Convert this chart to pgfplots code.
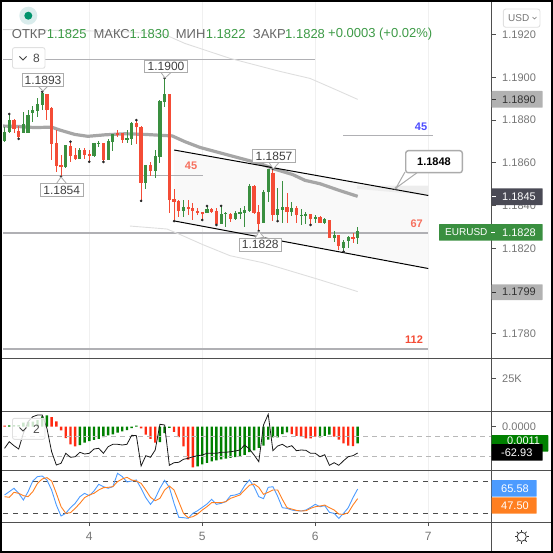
\documentclass[border=0pt]{standalone}
\usepackage{fontspec}
\setmainfont{Liberation Sans}
\usepackage{pgfplots}
\usepackage{pgfplotstable}
\pgfplotsset{compat=1.18}

\definecolor{cup}{HTML}{3A8F40}
\definecolor{cdown}{HTML}{F44C36}
\definecolor{hgreen}{HTML}{008000}
\definecolor{hred}{HTML}{FF2A12}
\definecolor{sep}{HTML}{4F4F4F}
\definecolor{ticktxt}{HTML}{757575}
\definecolor{hdr}{HTML}{666666}
\definecolor{hval}{HTML}{3D9A46}
\definecolor{lvl}{HTML}{B0B0B4}
\definecolor{boxline}{HTML}{ABABAB}
\definecolor{blueline}{HTML}{4C9BFF}
\definecolor{orangeline}{HTML}{FF7F20}
\definecolor{darktag}{HTML}{4A4A55}

% hourly candles: k = hours from start of day 4
\pgfplotstableread{
k o c h l
-18 1.18702 1.18746 1.18768 1.18697
-17 1.18746 1.18800 1.18829 1.18740
-14 1.18741 1.18782 1.18838 1.18740
-13 1.18741 1.18824 1.18847 1.18740
-12 1.18832 1.18847 1.18866 1.18793
-11 1.18844 1.18875 1.18904 1.18815
-10 1.18871 1.18926 1.18933 1.18847
-5 1.18580 1.18683 1.18683 1.18576
-2 1.18618 1.18660 1.18669 1.18618
1 1.18632 1.18693 1.18693 1.18627
2 1.18688 1.18694 1.18704 1.18674
4 1.18613 1.18702 1.18712 1.18613
5 1.18699 1.18735 1.18735 1.18657
8 1.18707 1.18715 1.18754 1.18691
9 1.18712 1.18788 1.18793 1.18683
12 1.18507 1.18590 1.18590 1.18476
14 1.18562 1.18632 1.18660 1.18527
15 1.18627 1.18889 1.18894 1.18599
16 1.18886 1.18922 1.18997 1.18863
20 1.18376 1.18394 1.18426 1.18348
25 1.18363 1.18384 1.18398 1.18363
28 1.18313 1.18360 1.18398 1.18313
29 1.18360 1.18363 1.18368 1.18301
31 1.18335 1.18366 1.18374 1.18332
32 1.18360 1.18371 1.18387 1.18337
33 1.18363 1.18379 1.18398 1.18301
34 1.18374 1.18493 1.18499 1.18371
37 1.18319 1.18465 1.18473 1.18319
38 1.18462 1.18570 1.18571 1.18418
40 1.18356 1.18382 1.18481 1.18327
41 1.18379 1.18393 1.18516 1.18319
43 1.18371 1.18390 1.18418 1.18351
45 1.18354 1.18357 1.18382 1.18309
46 1.18351 1.18362 1.18371 1.18312
48 1.18338 1.18348 1.18356 1.18317
50 1.18317 1.18335 1.18340 1.18315
52 1.18249 1.18262 1.18281 1.18230
54 1.18202 1.18230 1.18238 1.18184
55 1.18234 1.18254 1.18257 1.18202
57 1.18250 1.18280 1.18300 1.18220
}\upcandles

\pgfplotstableread{
k o c h l
-16 1.18800 1.18757 1.18805 1.18740
-15 1.18749 1.18719 1.18772 1.18712
-9 1.18922 1.18847 1.18922 1.18800
-8 1.18857 1.18688 1.18861 1.18613
-7 1.18693 1.18585 1.18754 1.18557
-6 1.18590 1.18580 1.18637 1.18535
-4 1.18679 1.18632 1.18699 1.18605
-3 1.18637 1.18616 1.18669 1.18613
-1 1.18660 1.18637 1.18669 1.18618
0 1.18641 1.18632 1.18660 1.18605
3 1.18691 1.18613 1.18691 1.18604
6 1.18738 1.18729 1.18754 1.18722
7 1.18738 1.18707 1.18741 1.18691
10 1.18788 1.18766 1.18800 1.18687
11 1.18769 1.18507 1.18772 1.18422
13 1.18590 1.18562 1.18605 1.18538
17 1.18922 1.18428 1.18922 1.18365
18 1.18430 1.18418 1.18477 1.18327
19 1.18422 1.18374 1.18426 1.18348
21 1.18394 1.18384 1.18426 1.18356
22 1.18390 1.18376 1.18413 1.18332
23 1.18376 1.18366 1.18387 1.18356
24 1.18368 1.18359 1.18371 1.18332
26 1.18384 1.18371 1.18388 1.18366
27 1.18374 1.18312 1.18387 1.18309
30 1.18360 1.18337 1.18366 1.18321
35 1.18493 1.18366 1.18496 1.18365
36 1.18370 1.18313 1.18402 1.18281
39 1.18554 1.18356 1.18571 1.18327
42 1.18393 1.18371 1.18457 1.18319
44 1.18390 1.18356 1.18398 1.18317
47 1.18359 1.18337 1.18359 1.18309
49 1.18348 1.18317 1.18352 1.18317
51 1.18332 1.18249 1.18332 1.18249
53 1.18262 1.18210 1.18262 1.18192
56 1.18251 1.18245 1.18270 1.18226
}\downcandles

\pgfplotstableread{
k macd
-17 0.00009
-16 0.00010
-15 0.00011
-14 0.00027
-13 0.00031
-12 0.00033
-11 0.00044
-10 0.00069
-9 0.00075
-2 -0.00122
-1 -0.00106
0 -0.00095
1 -0.00088
2 -0.00080
3 -0.00069
4 -0.00057
5 -0.00051
6 -0.00040
7 -0.00031
8 -0.00022
9 -0.00009
10 0.00007
15 -0.00102
16 -0.00042
17 -0.00007
23 -0.00263
24 -0.00250
25 -0.00239
26 -0.00230
27 -0.00223
28 -0.00217
29 -0.00212
30 -0.00206
31 -0.00201
32 -0.00194
33 -0.00186
34 -0.00168
35 -0.00157
36 -0.00141
37 -0.00126
38 -0.00086
39 -0.00071
40 -0.00071
41 -0.00049
42 -0.00038
49 -0.00071
50 -0.00060
51 -0.00053
57 -0.00110
}\histgreen

\pgfplotstableread{
k macd
-18 0.00007
-8 0.00064
-7 0.00035
-6 -0.00024
-5 -0.00075
-4 -0.00117
-3 -0.00130
11 -0.00011
12 -0.00053
13 -0.00080
14 -0.00106
18 -0.00035
19 -0.00069
20 -0.00130
21 -0.00219
22 -0.00270
43 -0.00049
44 -0.00060
45 -0.00066
46 -0.00077
47 -0.00077
48 -0.00066
52 -0.00066
53 -0.00086
54 -0.00110
55 -0.00126
56 -0.00128
}\histred

\pgfplotstableread{
k cci blue orange
-18 -16 54.4 51.2
-17 50 60.6 50.0
-16 10 66.9 59.4
-15 -23 57.5 57.5
-14 134 45.0 53.1
-13 250 60.6 51.2
-12 300 80.6 60.6
-11 317 88.8 76.2
-10 317 90.0 84.4
-9 184 82.5 86.9
-8 -50 63.7 80.6
-7 -183 35.6 57.5
-6 -166 15.0 32.5
-5 -66 20.0 20.0
-4 -106 30.6 21.2
-3 -100 38.7 29.3
-2 -56 51.2 38.7
-1 -73 57.5 49.4
0 -66 53.1 54.4
1 -23 61.9 57.5
2 -16 74.4 63.7
3 -66 70.0 68.1
4 0 66.9 68.7
5 24 70.0 70.0
6 24 95.0 79.4
7 17 88.8 84.4
8 24 78.8 87.5
9 114 80.6 82.5
10 110 82.5 80.6
11 -193 66.9 76.2
12 -90 49.4 63.7
13 -106 36.8 50.0
14 -33 48.1 43.7
15 224 66.9 48.1
16 217 81.9 63.7
17 -186 68.7 71.2
18 -160 38.7 63.7
19 -156 12.5 41.9
20 -126 11.8 20.0
21 -116 10.6 11.8
22 -100 20.0 13.7
23 -90 24.9 18.7
24 -83 31.2 26.2
25 -66 37.5 32.5
26 -66 46.2 40.0
27 -66 36.8 40.0
28 -56 38.7 40.0
29 -56 41.9 41.9
30 -50 53.1 48.1
31 -43 54.4 51.2
32 -33 57.5 54.4
33 17 71.9 63.7
34 -23 82.5 72.5
35 -83 70.0 75.0
36 -150 51.2 68.7
37 217 47.5 55.6
38 324 68.7 59.4
39 -40 69.9 63.7
40 7 52.0 63.7
41 24 30.5 46.2
42 -6 29.3 30.5
43 10 26.2 28.0
44 -40 24.9 25.5
45 -33 24.3 24.3
46 -36 26.2 24.9
47 -66 31.1 29.3
48 -66 36.8 32.4
49 -100 32.4 33.6
50 -80 34.3 35.5
51 -186 21.8 30.5
52 -160 19.9 26.2
53 -186 10.5 18.6
54 -140 19.9 18.0
55 -100 30.5 21.1
56 -90 49.3 35.5
57 -62.93 65.58 47.50
}\oscs

\newcommand{\fs}[1]{\fontsize{#1}{#1}\selectfont}

\pgfplotsset{
  pane/.style={
    scale only axis, width=488.7pt,
    xmin=-18.33, xmax=85.47,
    xtick={0,24,48,72},
    xmajorgrids, major grid style={color=black!6,line width=0.8pt},
    axis line style={draw=none},
    xtick style={draw=none}, xticklabels={},
    ytick pos=right, yticklabel pos=right,
    tick align=outside, major tick length=4pt,
    ytick style={color=sep,line width=0.7pt},
    tick label style={font=\fs{11},text=ticktxt},
    yticklabel style={xshift=3pt},
    /pgf/number format/assume math mode=true,
    scaled y ticks=false,
    clip=true,
  },
  overlaypane/.style={
    scale only axis, width=488.7pt,
    xmin=-18.33, xmax=85.47,
    axis line style={draw=none}, ticks=none,
  },
  wick/.style={draw=none, no markers, forget plot,
    error bars/.cd, y dir=both, y explicit,
    error mark=none, error bar style={draw=#1,line width=0.9pt}},
  body/.style={draw=none, no markers, forget plot,
    error bars/.cd, y dir=both, y explicit,
    error mark=none, error bar style={draw=#1,line width=3.2pt}},
}

\newcommand{\ptrdown}[4]{% box edge x,y, tip x,y
  \fill[white] (#1-5,-#2+1) -- (#3,-#4) -- (#1+5,-#2+1) -- cycle;
  \draw[boxline,line width=0.8pt] (#1-5,-#2) -- (#3,-#4) -- (#1+5,-#2);
}
\newcommand{\pricetag}[7]{% x1 x2 y1 y2 fill textcolor text
  \fill[#5,rounded corners=0.6pt] (#1,-#3) rectangle (#2,-#4);
  \draw[#6,line width=0.7pt] (492,-#3/2-#4/2) -- (496,-#3/2-#4/2);
  \node[anchor=west,inner sep=0pt,font=\fs{11},text=#6] at (502,-#3/2-#4/2) {#7};
}

\begin{document}
\begin{tikzpicture}[x=1pt,y=1pt]
\useasboundingbox (0,0) rectangle (553,-553);

% price pane
\begin{axis}[pane, at={(3pt,-358pt)}, anchor=south west, height=356pt,
  ymin=1.17686, ymax=1.19353,
  ytick={1.178,1.180,1.182,1.184,1.186,1.188,1.190,1.192},
  yticklabel style={/pgf/number format/.cd,fixed,fixed zerofill,precision=4,assume math mode=true},
]
% channel fill
\addplot[draw=none,fill=black!2.5,forget plot] coordinates {
  (18,1.18660) (72,1.18447) (72,1.18105) (18,1.18328) } -- cycle;
\addplot[draw=none,fill=black!7,forget plot] coordinates {
  (56.9,1.18493) (72,1.18493) (72,1.18448) (56.9,1.18478) } -- cycle;
% levels
\addplot[lvl,line width=1.2pt,forget plot] coordinates {(-18.33,1.19084) (47.9,1.19084)};
\addplot[lvl,line width=1.2pt,forget plot] coordinates {(-18.33,1.18541) (24.1,1.18541)};
\addplot[lvl,line width=1.3pt,forget plot] coordinates {(-18.33,1.18271) (72,1.18271)};
\addplot[lvl,line width=1.6pt,forget plot] coordinates {(-18.33,1.17728) (72,1.17728)};
\addplot[lvl,line width=1pt,forget plot] coordinates {(53.9,1.18726) (72.9,1.18726)};
% thin bands
\addplot[black!13,line width=0.9pt,forget plot] coordinates {
  (-18.33,1.19224) (-6.2,1.19220) (6.5,1.19215) (16,1.19201) (20.3,1.19159)
  (29.9,1.19089) (40.5,1.19028) (46.9,1.18995) (52.2,1.18944) (57,1.18897)};
\addplot[black!13,line width=0.9pt,forget plot] coordinates {
  (8.6,1.18304) (16.5,1.18290) (19.3,1.18264) (24.1,1.18217) (29.9,1.18165)
  (36.9,1.18132) (48.4,1.18056) (57,1.17997)};
% moving average
\addplot[color=black!35,line width=3.2pt,line join=round,forget plot] coordinates {
  (-18.33,1.18772) (-15.8,1.18771) (-11.6,1.18765) (-8,1.18767) (-6.2,1.18753)
  (-3.1,1.18733) (-0.3,1.18724) (3.3,1.18731) (7.6,1.18736) (11.8,1.18733)
  (15,1.18729) (17.6,1.18726) (20.3,1.18699) (23.5,1.18672) (29.9,1.18634)
  (36.2,1.18597) (39.6,1.18569) (43.2,1.18545) (45.8,1.18518) (49,1.18502)
  (53.2,1.18470) (57,1.18443)};
% channel lines
\addplot[black,line width=1pt,forget plot] coordinates {(18,1.18660) (72,1.18447)};
\addplot[black,line width=1pt,forget plot] coordinates {(18,1.18328) (72,1.18105)};
% candles
\addplot[wick=cup] table[x=k,y=c,y error plus expr=\thisrow{h}-\thisrow{c},y error minus expr=\thisrow{c}-\thisrow{l}] {\upcandles};
\addplot[wick=cdown] table[x=k,y=c,y error plus expr=\thisrow{h}-\thisrow{c},y error minus expr=\thisrow{c}-\thisrow{l}] {\downcandles};
\addplot[body=cup] table[x=k,y=c,y error plus expr=0,y error minus expr=\thisrow{c}-\thisrow{o}] {\upcandles};
\addplot[body=cdown] table[x=k,y=c,y error plus expr=\thisrow{o}-\thisrow{c},y error minus expr=0] {\downcandles};
% pivot dots
\addplot[only marks,mark=*,mark size=1.1pt,mark options={fill=black!85,draw=black!85},forget plot] coordinates {
  (-17,1.18829) (-15,1.18712) (-10,1.18933) (-6,1.18535) (-4,1.18699) (0,1.18605)
  (3,1.18604) (10,1.18800) (11,1.18422) (16,1.18997) (18,1.18327) (24,1.18332)
  (25,1.18398) (27,1.18309) (28,1.18398) (36,1.18281) (39,1.18571) (40,1.18327)
  (47,1.18309) (54,1.18184)};
\end{axis}

% volume pane
\begin{axis}[pane, at={(3pt,-411pt)}, anchor=south west, height=53pt,
  ymin=0, ymax=41, ytick={25}, yticklabels={25K}]
\end{axis}

% macd pane
\begin{axis}[pane, at={(3pt,-470pt)}, anchor=south west, height=59pt,
  ymin=-0.00287, ymax=0.00104,
  ytick={0}, yticklabels={0.0000},
  ybar, bar width=2.4pt, bar shift=0pt]
\addplot[fill=hgreen,draw=none] table[x=k,y=macd] {\histgreen};
\addplot[fill=hred,draw=none] table[x=k,y=macd] {\histred};
\end{axis}
\begin{axis}[overlaypane, at={(3pt,-470pt)}, anchor=south west, height=59pt,
  ymin=-233, ymax=357]
\addplot[black!28,line width=0.8pt,dash pattern=on 5pt off 4pt] coordinates {(-18.33,100) (85.47,100)};
\addplot[black!28,line width=0.8pt,dash pattern=on 5pt off 4pt] coordinates {(-18.33,-100) (85.47,-100)};
\addplot[black!90,line width=0.8pt] table[x=k,y=cci] {\oscs};
\end{axis}

% stochastic pane
\begin{axis}[pane, at={(3pt,-522pt)}, anchor=south west, height=52pt,
  ymin=3.7, ymax=101.2, ytick=\empty,
  xticklabels={4,5,6,7},
  xtick pos=bottom,
  xtick style={draw=sep,line width=0.7pt},
  xticklabel style={font=\fs{12},text=ticktxt,yshift=-3pt}]
\addplot[black!70,line width=0.8pt,dash pattern=on 5pt off 5pt] coordinates {(-18.33,80) (85.47,80)};
\addplot[black!70,line width=0.8pt,dash pattern=on 5pt off 5pt] coordinates {(-18.33,20) (85.47,20)};
\addplot[blueline,line width=0.9pt] table[x=k,y=blue] {\oscs};
\addplot[orangeline,line width=0.9pt] table[x=k,y=orange] {\oscs};
\end{axis}

% pane separators and frame
\draw[sep,line width=0.8pt] (491.7,-1) -- (491.7,-552);
\foreach \yy in {358,411,470,522} \draw[sep,line width=0.8pt] (2,-\yy) -- (552,-\yy);
\draw[black,line width=2pt] (1,-1) rectangle (552,-552);

% logo and header
\fill[teal!15] (28.3,-15.7) circle (9);
\fill[teal!85!green] (28.3,-15.7) circle (4);
\begin{scope}[every node/.style={anchor=west,inner sep=0pt,font=\fs{13}}]
\node[text=hdr] at (11.7,-34) {ОТКР};
\node[text=hval] at (46.7,-34) {1.1825};
\node[text=hdr] at (93.3,-34) {МАКС};
\node[text=hval] at (129.3,-34) {1.1830};
\node[text=hdr] at (175.7,-34) {МИН};
\node[text=hval] at (205.7,-34) {1.1822};
\node[text=hdr] at (252.7,-34) {ЗАКР};
\node[text=hval] at (285,-34) {1.1828};
\node[text=hval] at (328,-34) {+0.0003 (+0.02\%)};
\end{scope}

% collapse buttons
\draw[black!12,fill=white,rounded corners=2pt,line width=0.9pt] (12.5,-47.7) rectangle (45,-68.3);
\draw[black!75,line width=0.9pt] (19.5,-56.5) -- (23,-60) -- (26.5,-56.5);
\node[font=\fs{12},text=black!70] at (36.5,-58.5) {8};
\draw[black!12,fill=white,fill opacity=0.8,rounded corners=2pt,line width=0.9pt] (12.5,-418.3) rectangle (45,-439.3);
\draw[black!75,line width=0.9pt] (19.5,-427.5) -- (23,-431) -- (26.5,-427.5);
\node[font=\fs{12},text=black!70] at (36.5,-429.5) {2};

% value boxes
\ptrdown{43}{86}{43}{91}
\node[draw=boxline,fill=white,line width=0.9pt,minimum width=41pt,minimum height=12.3pt,inner sep=0pt,font=\fs{12},text=black!75] at (43,-80) {1.1893};
\ptrdown{166}{72.5}{165}{78}
\node[draw=boxline,fill=white,line width=0.9pt,minimum width=42.5pt,minimum height=12.5pt,inner sep=0pt,font=\fs{12},text=black!75] at (166,-66.3) {1.1900};
\ptrdown{61.5}{183.5}{61}{177}
\node[draw=boxline,fill=white,line width=0.9pt,minimum width=42.5pt,minimum height=12.7pt,inner sep=0pt,font=\fs{12},text=black!75] at (61.7,-190) {1.1854};
\ptrdown{274}{162.5}{273.3}{169}
\node[draw=boxline,fill=white,line width=0.9pt,minimum width=42.5pt,minimum height=12.7pt,inner sep=0pt,font=\fs{12},text=black!75] at (274,-156.3) {1.1857};
\ptrdown{260}{238.5}{259}{231.5}
\node[draw=boxline,fill=white,line width=0.9pt,minimum width=42.5pt,minimum height=12.7pt,inner sep=0pt,font=\fs{12},text=black!75] at (260.3,-244.7) {1.1828};

% callout
\fill[white] (405,-172) -- (396,-188) -- (418,-172) -- cycle;
\draw[boxline,line width=1pt] (405,-172) -- (396,-188) -- (418,-172);
\fill[boxline] (396,-188) circle (1.6);
\draw[boxline,fill=white,rounded corners=2.5pt,line width=1.4pt] (405.7,-150.7) rectangle (462.3,-172.7);
\node[font=\bfseries\fs{11},text=black] at (434,-161.7) {1.1848};

% trade numbers
\node[font=\bfseries\fs{11},text=cdown!80] at (191,-166) {45};
\node[font=\bfseries\fs{11},text=blue!70] at (421,-126.7) {45};
\node[font=\bfseries\fs{11},text=cdown!80] at (416.7,-224) {67};
\node[font=\bfseries\fs{11},text=cdown] at (414,-340) {112};

% currency button
\draw[black!12,fill=white,rounded corners=2.5pt,line width=0.9pt] (503.3,-9) rectangle (540,-27.3);
\node[anchor=west,inner sep=0pt,font=\fs{10},text=ticktxt] at (508,-18) {USD};
\draw[ticktxt,line width=0.6pt] (532.5,-17) -- (534.5,-19) -- (536.5,-17);

% price tags
\pricetag{491.7}{542.7}{91}{107.7}{black!30}{black!80}{1.1890}
\pricetag{491.7}{542.7}{284.3}{300}{black!30}{black!80}{1.1799}
\pricetag{491.7}{542.7}{188.3}{205}{darktag}{white}{1.1845}
\fill[cup,rounded corners=0.6pt] (439,-224) rectangle (542.7,-240.7);
\node[anchor=west,inner sep=0pt,font=\fs{10},text=white] at (445,-232.3) {EURUSD};
\draw[white,line width=0.7pt] (491,-232.3) -- (495,-232.3);
\node[anchor=west,inner sep=0pt,font=\fs{11},text=white] at (502,-232.3) {1.1828};
\fill[hgreen,rounded corners=0.6pt] (491.7,-435) rectangle (548.3,-451.7);
\node[anchor=west,inner sep=0pt,font=\fs{11},text=white] at (507,-441) {0.0011};
\fill[black,rounded corners=0.6pt] (491.7,-444) rectangle (542.7,-460.7);
\node[anchor=west,inner sep=0pt,font=\fs{11},text=white] at (501,-452.3) {-62.93};
\fill[blueline,rounded corners=0.6pt] (491.7,-480) rectangle (536.7,-496.7);
\node[inner sep=0pt,font=\fs{11},text=white] at (515,-488.3) {65.58};
\fill[orangeline,rounded corners=0.6pt] (491.7,-497.3) rectangle (536.7,-513.7);
\node[inner sep=0pt,font=\fs{11},text=white] at (515,-505.5) {47.50};

% settings icon
\draw[black!80,line width=0.8pt] (521.7,-536.7) circle (4.6);
\foreach \ang in {0,45,...,315}
  \draw[black!80,line width=0.8pt] (521.7,-536.7) ++(\ang:5) -- ++(\ang:2);
\end{tikzpicture}
\end{document}
